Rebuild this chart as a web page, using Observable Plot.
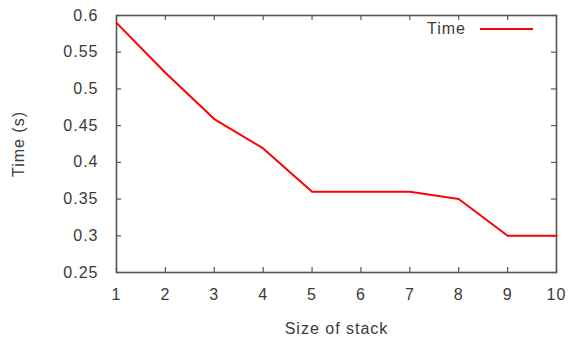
<!DOCTYPE html>
<html>
<head>
<meta charset="utf-8">
<script src="https://cdn.jsdelivr.net/npm/d3@7"></script>
<script src="https://cdn.jsdelivr.net/npm/@observablehq/plot@0.6"></script>
<style>
  body { margin: 0; background: #fff; }
  #wrap { position: relative; width: 568px; height: 342px; font-family: "Liberation Sans", Arial, sans-serif; }
  #legend { position: absolute; left: 0; top: 0; width: 568px; height: 342px; pointer-events: none; }
  #legend .lbl { position: absolute; right: 102px; top: 19px; font-size: 16px; letter-spacing: 1px; color: #3a3a3a; line-height: 20px; }
  #legend .sw { position: absolute; left: 480px; top: 28px; width: 53px; height: 0; border-top: 2px solid #ff0000; }
</style>
</head>
<body>
<div id="wrap"><div id="legend"><span class="lbl"></span><span class="sw"></span></div></div>
<script>
const stackSizes = [1, 2, 3, 4, 5, 6, 7, 8, 9, 10];
const times = [0.59, 0.522, 0.459, 0.419, 0.36, 0.36, 0.36, 0.35, 0.30, 0.30];
const xTicks = [1, 2, 3, 4, 5, 6, 7, 8, 9, 10];
const yTicks = [0.25, 0.3, 0.35, 0.4, 0.45, 0.5, 0.55, 0.6];
const seriesName = "Time";
const xLabel = "Size of stack";
const yLabel = "Time (s)";

const data = stackSizes.map((s, i) => ({size: s, time: times[i]}));

const W = 568, H = 342;
const mL = 116, mR = 12, mT = 15, mB = 70;
const innerW = W - mL - mR, innerH = H - mT - mB;
const axisColor = "#555";
const textColor = "#3a3a3a";

const chart = Plot.plot({
  width: W,
  height: H,
  marginLeft: mL,
  marginRight: mR,
  marginTop: mT,
  marginBottom: mB,
  style: {fontFamily: "'Liberation Sans', Arial, sans-serif", fontSize: "16px", letterSpacing: "1px", color: textColor, background: "#fff"},
  x: {domain: [1, 10]},
  y: {domain: [0.25, 0.6]},
  marks: [
    Plot.axisX({ticks: xTicks, tickSize: 0, tickPadding: 16, tickFormat: d => String(d), label: xLabel, labelAnchor: "center", labelArrow: "none", labelOffset: 61, fill: textColor}),
    Plot.axisY({ticks: yTicks, tickSize: 0, tickPadding: 18, tickFormat: d => String(d), label: yLabel, labelAnchor: "center", labelArrow: "none", labelOffset: 104, fill: textColor}),
    Plot.tickX(xTicks, {x: d => d, insetTop: innerH - 5, stroke: axisColor, strokeWidth: 1.2}),
    Plot.tickX(xTicks, {x: d => d, insetBottom: innerH - 5, stroke: axisColor, strokeWidth: 1.2}),
    Plot.tickY(yTicks, {y: d => d, insetRight: innerW - 5, stroke: axisColor, strokeWidth: 1.2}),
    Plot.tickY(yTicks, {y: d => d, insetLeft: innerW - 5, stroke: axisColor, strokeWidth: 1.2}),
    Plot.frame({stroke: axisColor, strokeWidth: 1.6}),
    Plot.line(data, {x: "size", y: "time", stroke: "#ff0000", strokeWidth: 2})
  ]
});
const wrap = document.getElementById("wrap");
wrap.insertBefore(chart, wrap.firstChild);
document.querySelector("#legend .lbl").textContent = seriesName;
</script>
</body>
</html>
